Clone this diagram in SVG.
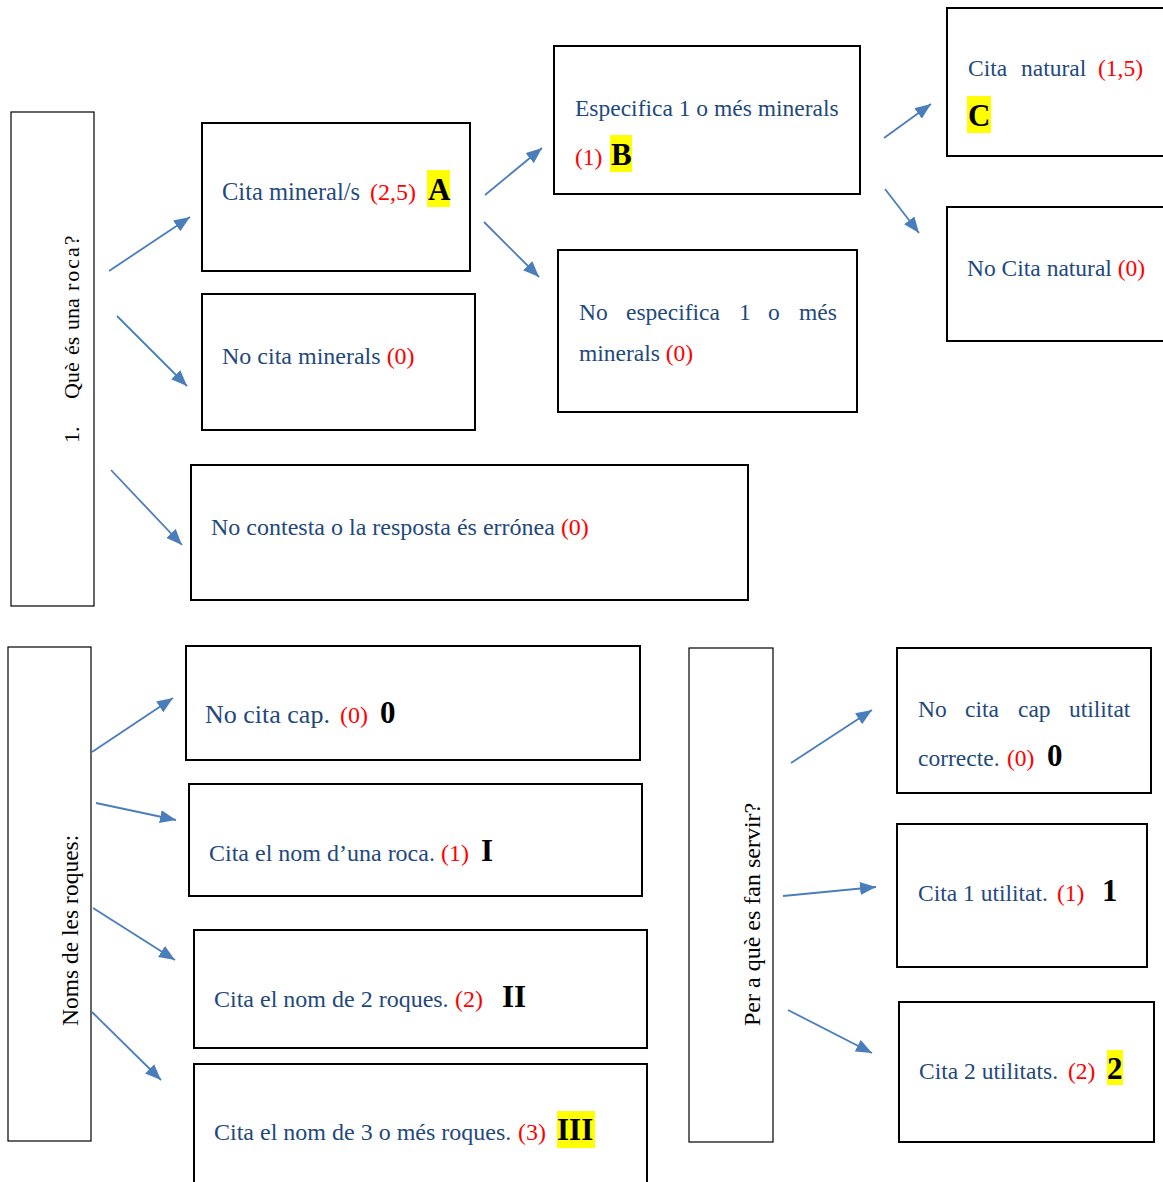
<svg xmlns="http://www.w3.org/2000/svg" width="1163" height="1182" viewBox="0 0 1163 1182">
<style>
.q{fill:#fff;stroke:#000;stroke-width:1.2}
.b{fill:#fff;stroke:#000;stroke-width:2}
text{font-family:"Liberation Serif","Times New Roman",serif}
.t{fill:#1F497D;font-size:23.5px}
.t24{font-size:24px}
.r{fill:#FF0000}
.k{fill:#000;font-weight:bold;font-size:31px}
.hl{fill:#FFFF00}
.qt{fill:#000;font-size:22px}
.c line{stroke:#4A7EBB;stroke-width:1.8;marker-end:url(#ah)}
</style>
<defs>
<marker id="ah" markerUnits="userSpaceOnUse" markerWidth="17" markerHeight="13" refX="16" refY="6.5" orient="auto">
<path d="M0,0 L16,6.5 L0,13 z" fill="#4A7EBB"/>
</marker>
</defs>
<rect width="1163" height="1182" fill="#fff"/>

<g id="q1">
<rect class="q" x="11" y="112" width="83" height="494"/>
<text class="qt" transform="translate(79,443) rotate(-90)"><tspan x="0">1.</tspan><tspan x="44">Què</tspan><tspan x="88">és</tspan><tspan x="113">una</tspan><tspan x="152" style="letter-spacing:2px">roca?</tspan></text>
</g>
<g id="nA">
<rect class="b" x="202" y="123" width="268" height="148"/>
<text class="t" x="222" y="200" style="font-size:24.5px">Cita mineral/s</text>
<text class="t r" x="370" y="200" style="font-size:24px">(2,5)</text>
<rect class="hl" x="427" y="170" width="23" height="37"/>
<text class="k" x="428" y="200">A</text>
</g>
<g id="nNoMin">
<rect class="b" x="202" y="294" width="273" height="136"/>
<text class="t t24" x="222" y="364">No cita minerals <tspan class="r">(0)</tspan></text>
</g>
<g id="nNoCont">
<rect class="b" x="191" y="465" width="557" height="135"/>
<text class="t t24" x="211" y="535">No contesta o la resposta és errónea <tspan class="r">(0)</tspan></text>
</g>
<g id="nB">
<rect class="b" x="554" y="46" width="306" height="148"/>
<text class="t" x="575" y="116">Especifica 1 o més minerals</text>
<text class="t r" x="575" y="165">(1)</text>
<rect class="hl" x="610" y="135" width="22" height="37"/>
<text class="k" x="611" y="165">B</text>
</g>
<g id="nNoEsp">
<rect class="b" x="558" y="250" width="299" height="162"/>
<text class="t" y="320"><tspan x="579">No</tspan><tspan x="626">especifica</tspan><tspan x="739">1</tspan><tspan x="768">o</tspan><tspan x="799">més</tspan></text>
<text class="t" x="579" y="361">minerals <tspan class="r">(0)</tspan></text>
</g>
<g id="nC">
<rect class="b" x="947" y="8" width="230" height="148"/>
<text class="t" y="76"><tspan x="968">Cita</tspan><tspan x="1021">natural</tspan><tspan class="r" x="1098">(1,5)</tspan></text>
<rect class="hl" x="967" y="96" width="24" height="37"/>
<text class="k" x="968" y="126">C</text>
</g>
<g id="nNoC">
<rect class="b" x="947" y="207" width="230" height="134"/>
<text class="t" x="967" y="276">No Cita natural <tspan class="r">(0)</tspan></text>
</g>

<g id="q2">
<rect class="q" x="8" y="647" width="83" height="494"/>
<text class="qt" transform="translate(78,1026) rotate(-90)" style="font-size:23.5px">Noms de les roques:</text>
</g>
<g id="n0">
<rect class="b" x="186" y="646" width="454" height="114"/>
<text class="t" x="205" y="723" style="font-size:26px">No cita cap.</text>
<text class="t r" x="340" y="723" style="font-size:24px">(0)</text>
<text class="k" x="380" y="723">0</text>
</g>
<g id="nI">
<rect class="b" x="189" y="784" width="453" height="112"/>
<text class="t t24" x="209" y="861">Cita el nom d’una roca. <tspan class="r" x="441">(1)</tspan></text>
<text class="k" x="481" y="861">I</text>
</g>
<g id="nII">
<rect class="b" x="194" y="930" width="453" height="118"/>
<text class="t t24" x="214" y="1007">Cita el nom de 2 roques. <tspan class="r" x="455">(2)</tspan></text>
<text class="k" x="502" y="1007">II</text>
</g>
<g id="nIII">
<rect class="b" x="194" y="1064" width="453" height="130"/>
<text class="t t24" x="214" y="1140">Cita el nom de 3 o més roques. <tspan class="r" x="518">(3)</tspan></text>
<rect class="hl" x="557" y="1111" width="38" height="37"/>
<text class="k" x="557" y="1140">III</text>
</g>

<g id="q3">
<rect class="q" x="689" y="648" width="84" height="494"/>
<text class="qt" transform="translate(760,1026) rotate(-90)" style="font-size:24px">Per a què es fan servir?</text>
</g>
<g id="nU0">
<rect class="b" x="897" y="648" width="254" height="145"/>
<text class="t" y="717"><tspan x="918">No</tspan><tspan x="965">cita</tspan><tspan x="1018">cap</tspan><tspan x="1069">utilitat</tspan></text>
<text class="t" x="918" y="766">correcte. <tspan class="r" x="1007">(0)</tspan></text>
<text class="k" x="1047" y="766">0</text>
</g>
<g id="nU1">
<rect class="b" x="897" y="824" width="250" height="143"/>
<text class="t" x="918" y="901">Cita 1 utilitat. <tspan class="r" x="1057">(1)</tspan></text>
<text class="k" x="1102" y="901">1</text>
</g>
<g id="nU2">
<rect class="b" x="899" y="1002" width="255" height="140"/>
<text class="t" x="919" y="1079">Cita 2 utilitats. <tspan class="r" x="1068">(2)</tspan></text>
<rect class="hl" x="1107" y="1050" width="16" height="35"/>
<text class="k" x="1107" y="1079">2</text>
</g>

<g id="connectors" class="c">
<line x1="109" y1="271" x2="190" y2="217"/>
<line x1="117" y1="316" x2="187" y2="386"/>
<line x1="111" y1="470" x2="182" y2="545"/>
<line x1="485" y1="195" x2="542" y2="148"/>
<line x1="484" y1="222" x2="539" y2="277"/>
<line x1="884" y1="138" x2="931" y2="104"/>
<line x1="885" y1="189" x2="919" y2="233"/>
<line x1="92" y1="752" x2="173" y2="698"/>
<line x1="96" y1="803" x2="176" y2="820"/>
<line x1="93" y1="908" x2="175" y2="960"/>
<line x1="92" y1="1012" x2="161" y2="1080"/>
<line x1="791" y1="763" x2="872" y2="710"/>
<line x1="783" y1="896" x2="876" y2="887"/>
<line x1="788" y1="1010" x2="872" y2="1053"/>
</g>
</svg>
